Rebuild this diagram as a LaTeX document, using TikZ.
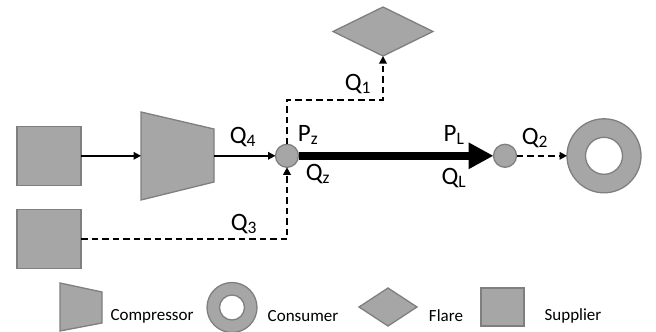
\documentclass[tikz,border=0pt]{standalone}
\usepackage{fontspec}
\setmainfont{Carlito}
\usepackage{xcolor}
\definecolor{unitfill}{RGB}{166,166,166}
\definecolor{unitline}{RGB}{127,127,127}
\usetikzlibrary{arrows.meta,shapes.geometric}
\tikzset{
    unit/.style={draw=unitline, fill=unitfill, line width=1.3pt, inner sep=0pt, outer sep=0pt},
    supplier/.style={unit, rectangle, minimum width=#1, minimum height=0.92*#1},
    junction/.style={unit, circle, minimum size=23pt},
    flare/.style 2 args={unit, diamond, minimum width=#1, minimum height=#2},
    consumer/.style={unit, circle, minimum size=#1},
    hole/.style={unit, circle, fill=white, minimum size=#1},
    flow/.style={line width=1.7pt, -{Triangle[length=7.5pt,width=7.5pt]}},
    dashflow/.style={flow, dash pattern=on 6.5pt off 4pt},
    mainflow/.style={line width=8pt, -{Triangle[length=25pt,width=25pt]}},
    biglabel/.style={font=\fontsize{25}{25}\selectfont, inner sep=0pt},
    keylabel/.style={font=\fontsize{17}{17}\selectfont, inner sep=0pt}
}
\begin{document}
\begin{tikzpicture}[x=1pt, y=-1pt]
    \useasboundingbox (0,0) rectangle (656,332);
    % plant
    \node [supplier=64pt] (supplierA) at (49,155.8) {};
    \node [supplier=64pt] (supplierB) at (49,239) {};
    \draw [unit] (141,112) -- (214,129) -- (214,182) -- (141,200) -- cycle;
    \coordinate (compIn) at (141,155.8);
    \coordinate (compOut) at (214,155.8);
    \node [junction] (joinZ) at (287,155.8) {};
    \node [junction] (joinL) at (505,155.8) {};
    \node [flare={100pt}{49pt}] (flr) at (383,31.5) {};
    \node [consumer=74pt] (cons) at (604,155.8) {};
    \node [hole=37pt] (consHole) at (604,155.8) {};
    % flows
    \coordinate (bendA) at (287,100);
    \coordinate (bendB) at (383,100);
    \coordinate (bendC) at (287,239);
    \draw [flow] (supplierA) -- (compIn);
    \draw [flow] (compOut) -- (joinZ);
    \draw [dashflow] (joinZ) -- (bendA) -- (bendB) -- (flr.south);
    \draw [dashflow] (supplierB) -- (bendC) -- (joinZ.south);
    \draw [mainflow] (joinZ) -- (joinL);
    \draw [dashflow] (joinL) -- (cons);
    % labels
    \node [biglabel] (q1) at (358,84) {Q\textsubscript{1}};
    \node [biglabel] (q2) at (535,138) {Q\textsubscript{2}};
    \node [biglabel] (q3) at (244,224) {Q\textsubscript{3}};
    \node [biglabel] (q4) at (243,137) {Q\textsubscript{4}};
    \node [biglabel] (pz) at (308,135) {P\textsubscript{z}};
    \node [biglabel] (qz) at (318,174) {Q\textsubscript{z}};
    \node [biglabel] (pl) at (454,135) {P\textsubscript{L}};
    \node [biglabel] (ql) at (454,178) {Q\textsubscript{L}};
    % legend
    \draw [unit] (60,283) -- (102,292) -- (102,323) -- (60,331) -- cycle;
    \node [consumer=50pt] (keyCons) at (232,307.5) {};
    \node [hole=25pt] (keyHole) at (232,307.5) {};
    \node [flare={58pt}{38pt}] (keyFlr) at (388,307) {};
    \node [unit, rectangle, minimum width=43pt, minimum height=38pt] (keySup) at (502.5,307) {};
    \node [keylabel] (keyCompText) at (152,316) {Compressor};
    \node [keylabel] (keyConsText) at (303,316) {Consumer};
    \node [keylabel] (keyFlrText) at (446,316) {Flare};
    \node [keylabel] (keySupText) at (573,316) {Supplier};
\end{tikzpicture}
\end{document}
